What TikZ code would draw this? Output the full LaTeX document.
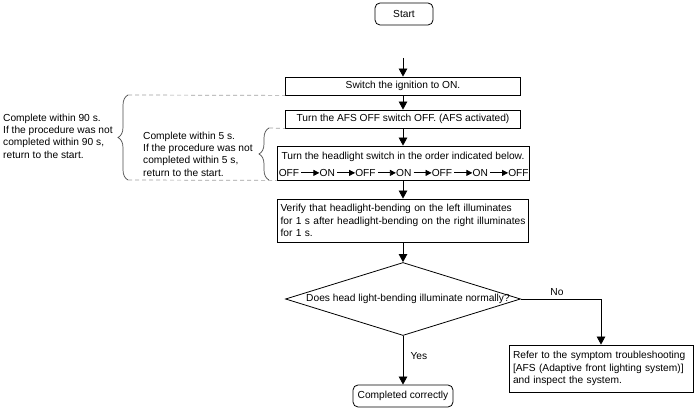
\documentclass[tikz,border=0pt]{standalone}
\usepackage{fontspec}
\setmainfont{Liberation Sans}
\usepackage{tikz}
\usetikzlibrary{positioning,arrows.meta,shapes.geometric,calc,decorations.pathreplacing}
\definecolor{cguion}{HTML}{A0A0A0}
\definecolor{cllave}{HTML}{4A4A4A}
\tikzset{
  paso/.style={rectangle, draw=black, fill=white, line width=0.8pt,
    align=left, inner sep=3pt},
  borde/.style={rectangle, rounded corners=5pt, draw=black, fill=white,
    line width=0.8pt, align=center},
  rombo/.style={diamond, draw=black, line width=0.8pt,
    minimum width=235pt, minimum height=73pt, inner sep=0pt},
  estado/.style={inner sep=0pt},
  conector/.style={-{Triangle[length=8pt,width=8.5pt]}, line width=0.8pt},
  conectorc/.style={-{Triangle[length=6pt,width=6pt]}, line width=0.8pt},
  guia/.style={dash pattern=on 4pt off 3pt, draw=cguion, line width=0.7pt},
  llave/.style={decorate, decoration={brace, amplitude=10pt}, draw=cllave,
    line width=0.7pt},
  nota/.style={align=left, inner sep=0pt},
}

\begin{document}
\begin{tikzpicture}[x=1pt, y=1pt, font=\fontsize{10.2pt}{12.3pt}\selectfont]
  \useasboundingbox (0,0) rectangle (697,410);
  % main chain
  \node[borde, minimum width=58pt, minimum height=22pt] (inicio) at (404,396) {Start};
  \coordinate (entrada) at (403,352);
  \node[paso, minimum width=235pt, minimum height=18pt, align=center] (p1) at (403,324) {Switch the ignition to ON.};
  \node[paso, minimum width=235pt, minimum height=18pt, align=center] (p2) at (403,291) {Turn the AFS OFF switch OFF. (AFS activated)};
  \node[paso, minimum width=252pt, minimum height=34pt] (p3) at (403,247) {};
  \node[anchor=base] (t3) at ($(p3.north)+(0,-14)$) {Turn the headlight switch in the order indicated below.};
  \node[estado, anchor=base west] (e1) at ($(p3.south west)+(2,4)$) {OFF};
  \node[estado, right=20pt of e1] (e2) {ON};
  \node[estado, right=20pt of e2] (e3) {OFF};
  \node[estado, right=20pt of e3] (e4) {ON};
  \node[estado, right=20pt of e4] (e5) {OFF};
  \node[estado, right=20pt of e5] (e6) {ON};
  \node[estado, right=20pt of e6] (e7) {OFF};
  \draw[conectorc] ([xshift=2pt]e1.east) -- (e2.west);
  \draw[conectorc] ([xshift=2pt]e2.east) -- (e3.west);
  \draw[conectorc] ([xshift=2pt]e3.east) -- (e4.west);
  \draw[conectorc] ([xshift=2pt]e4.east) -- (e5.west);
  \draw[conectorc] ([xshift=2pt]e5.east) -- (e6.west);
  \draw[conectorc] ([xshift=2pt]e6.east) -- (e7.west);
  \node[paso, text width=245pt, minimum height=43pt] (p4) at (403,189.5) {Verify that headlight-bending on the left illuminates\\for 1 s after headlight-bending on the right illuminates\\for 1 s.};
  \node[rombo] (q) at (403,111) {};
  \node (tq) at ([xshift=5pt]q.center) {Does head light-bending illuminate normally?};
  \node[borde, minimum width=100pt, minimum height=22pt] (fin) at (403,14) {Completed correctly};
  \node[paso, inner xsep=4pt, text width=176pt, minimum height=47pt] (rev) at (601,41.5) {Refer to the symptom troubleshooting\\{}[AFS (Adaptive front lighting system)]\\and inspect the system.};
  \node[anchor=base] (no) at (557,114) {No};
  \node[anchor=base west] (si) at (407,50) {Yes};
  \draw[conector] (entrada) -- (p1);
  \draw[conector] (p1) -- (p2);
  \draw[conector] (p2) -- (p3);
  \draw[conector] (p3) -- (p4);
  \draw[conector] (p4) -- (q.north);
  \draw[conector] (q.south) -- (fin);
  \draw[conector] (q.east) -| (rev.north);
  % time limits
  \node[nota, anchor=west] (n90) at (3,274) {Complete within 90 s.\\If the procedure was not\\completed within 90 s,\\return to the start.};
  \node[nota, anchor=west] (n5) at (143,256) {Complete within 5 s.\\If the procedure was not\\completed within 5 s,\\return to the start.};
  \coordinate (l90a) at (128,230);
  \coordinate (l90b) at (128,315);
  \coordinate (l5a) at (269,230);
  \coordinate (l5b) at (269,282);
  \draw[llave] (l90a) -- (l90b);
  \draw[llave] (l5a) -- (l5b);
  \draw[guia] (l90b) -- (p1.south west);
  \draw[guia] (l5b) -- (p2.south west);
  \draw[guia] (l90a) -- (p3.south west);
\end{tikzpicture}
\end{document}
